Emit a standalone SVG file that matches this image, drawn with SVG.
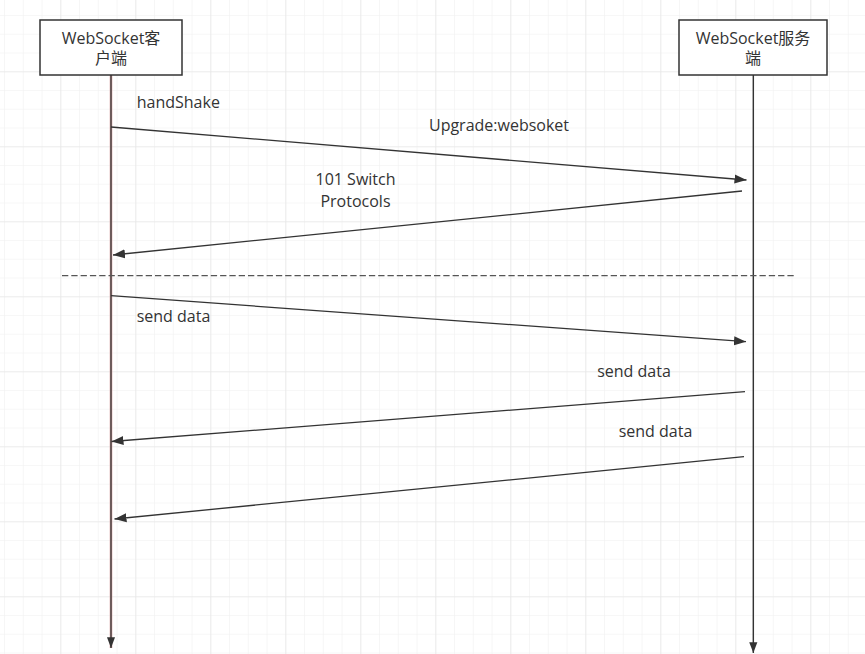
<svg xmlns="http://www.w3.org/2000/svg" width="865" height="654" viewBox="0 0 865 654">
<defs>
<pattern id="minor" x="4.05" y="15.05" width="18.75" height="18.75" patternUnits="userSpaceOnUse">
<path d="M0 0H18.75M0 0V18.75" fill="none" stroke="#f0f0f0" stroke-width="1.2"/>
</pattern>
<pattern id="major" x="60.3" y="71.3" width="75" height="75" patternUnits="userSpaceOnUse">
<path d="M0 0H75M0 0V75" fill="none" stroke="#e4e4e4" stroke-width="1.2"/>
</pattern>
<marker id="arr" viewBox="0 0 12 10" refX="12" refY="5" markerWidth="12" markerHeight="10" markerUnits="userSpaceOnUse" orient="auto">
<path d="M0 0.5L12 5L0 9.5Z" fill="#333"/>
</marker>
<marker id="arrv" viewBox="0 0 12 10" refX="12" refY="5" markerWidth="12" markerHeight="9" markerUnits="userSpaceOnUse" orient="auto">
<path d="M0 0.5L12 5L0 9.5Z" fill="#333"/>
</marker>
<style>
text{font-family:"Open Sans","Noto Sans CJK SC",sans-serif;font-size:16px;fill:#333}
.box{fill:#fff;stroke:#333;stroke-width:1.5}
.msg{fill:none;stroke:#333;stroke-width:1.3}
</style>
</defs>
<rect width="865" height="654" fill="#fff"/>
<rect width="865" height="654" fill="url(#minor)"/>
<rect width="865" height="654" fill="url(#major)"/>

<g id="connectors">
<line x1="111" y1="75" x2="111" y2="648" stroke="#dba5a5" stroke-width="2.6"/>
<line x1="111" y1="75" x2="111" y2="648" stroke="#333" stroke-width="1.3" marker-end="url(#arrv)"/>
<line x1="753.3" y1="75" x2="753.3" y2="653" stroke="#333" stroke-width="1.4" marker-end="url(#arrv)"/>
<line class="msg" x1="111" y1="127" x2="746.5" y2="180" marker-end="url(#arr)"/>
<line class="msg" x1="742" y1="191" x2="113" y2="255" marker-end="url(#arr)"/>
<line x1="62" y1="275.7" x2="795" y2="275.7" stroke="#555" stroke-width="1.3" stroke-dasharray="6.3 3"/>
<line class="msg" x1="111" y1="295.7" x2="746" y2="341.7" marker-end="url(#arr)"/>
<line class="msg" x1="745" y1="391.7" x2="111.5" y2="441.5" marker-end="url(#arr)"/>
<line class="msg" x1="744" y1="456.7" x2="114.5" y2="519" marker-end="url(#arr)"/>
</g>

<g id="client">
<rect class="box" x="40" y="20" width="142" height="55"/>
<text x="111" y="43.5" text-anchor="middle">WebSocket客</text>
<text x="111" y="63.5" text-anchor="middle">户端</text>
</g>
<g id="server">
<rect class="box" x="679" y="20" width="148" height="55"/>
<text x="753" y="43.5" text-anchor="middle">WebSocket服务</text>
<text x="753" y="63.5" text-anchor="middle">端</text>
</g>

<g id="labels">
<text x="136.7" y="108.3">handShake</text>
<text x="499" y="131" text-anchor="middle">Upgrade:websoket</text>
<text x="355.5" y="185.4" text-anchor="middle">101 Switch</text>
<text x="355.5" y="207.4" text-anchor="middle">Protocols</text>
<text x="173.5" y="322" text-anchor="middle">send data</text>
<text x="634" y="376.7" text-anchor="middle">send data</text>
<text x="655.5" y="436.7" text-anchor="middle">send data</text>
</g>
</svg>
